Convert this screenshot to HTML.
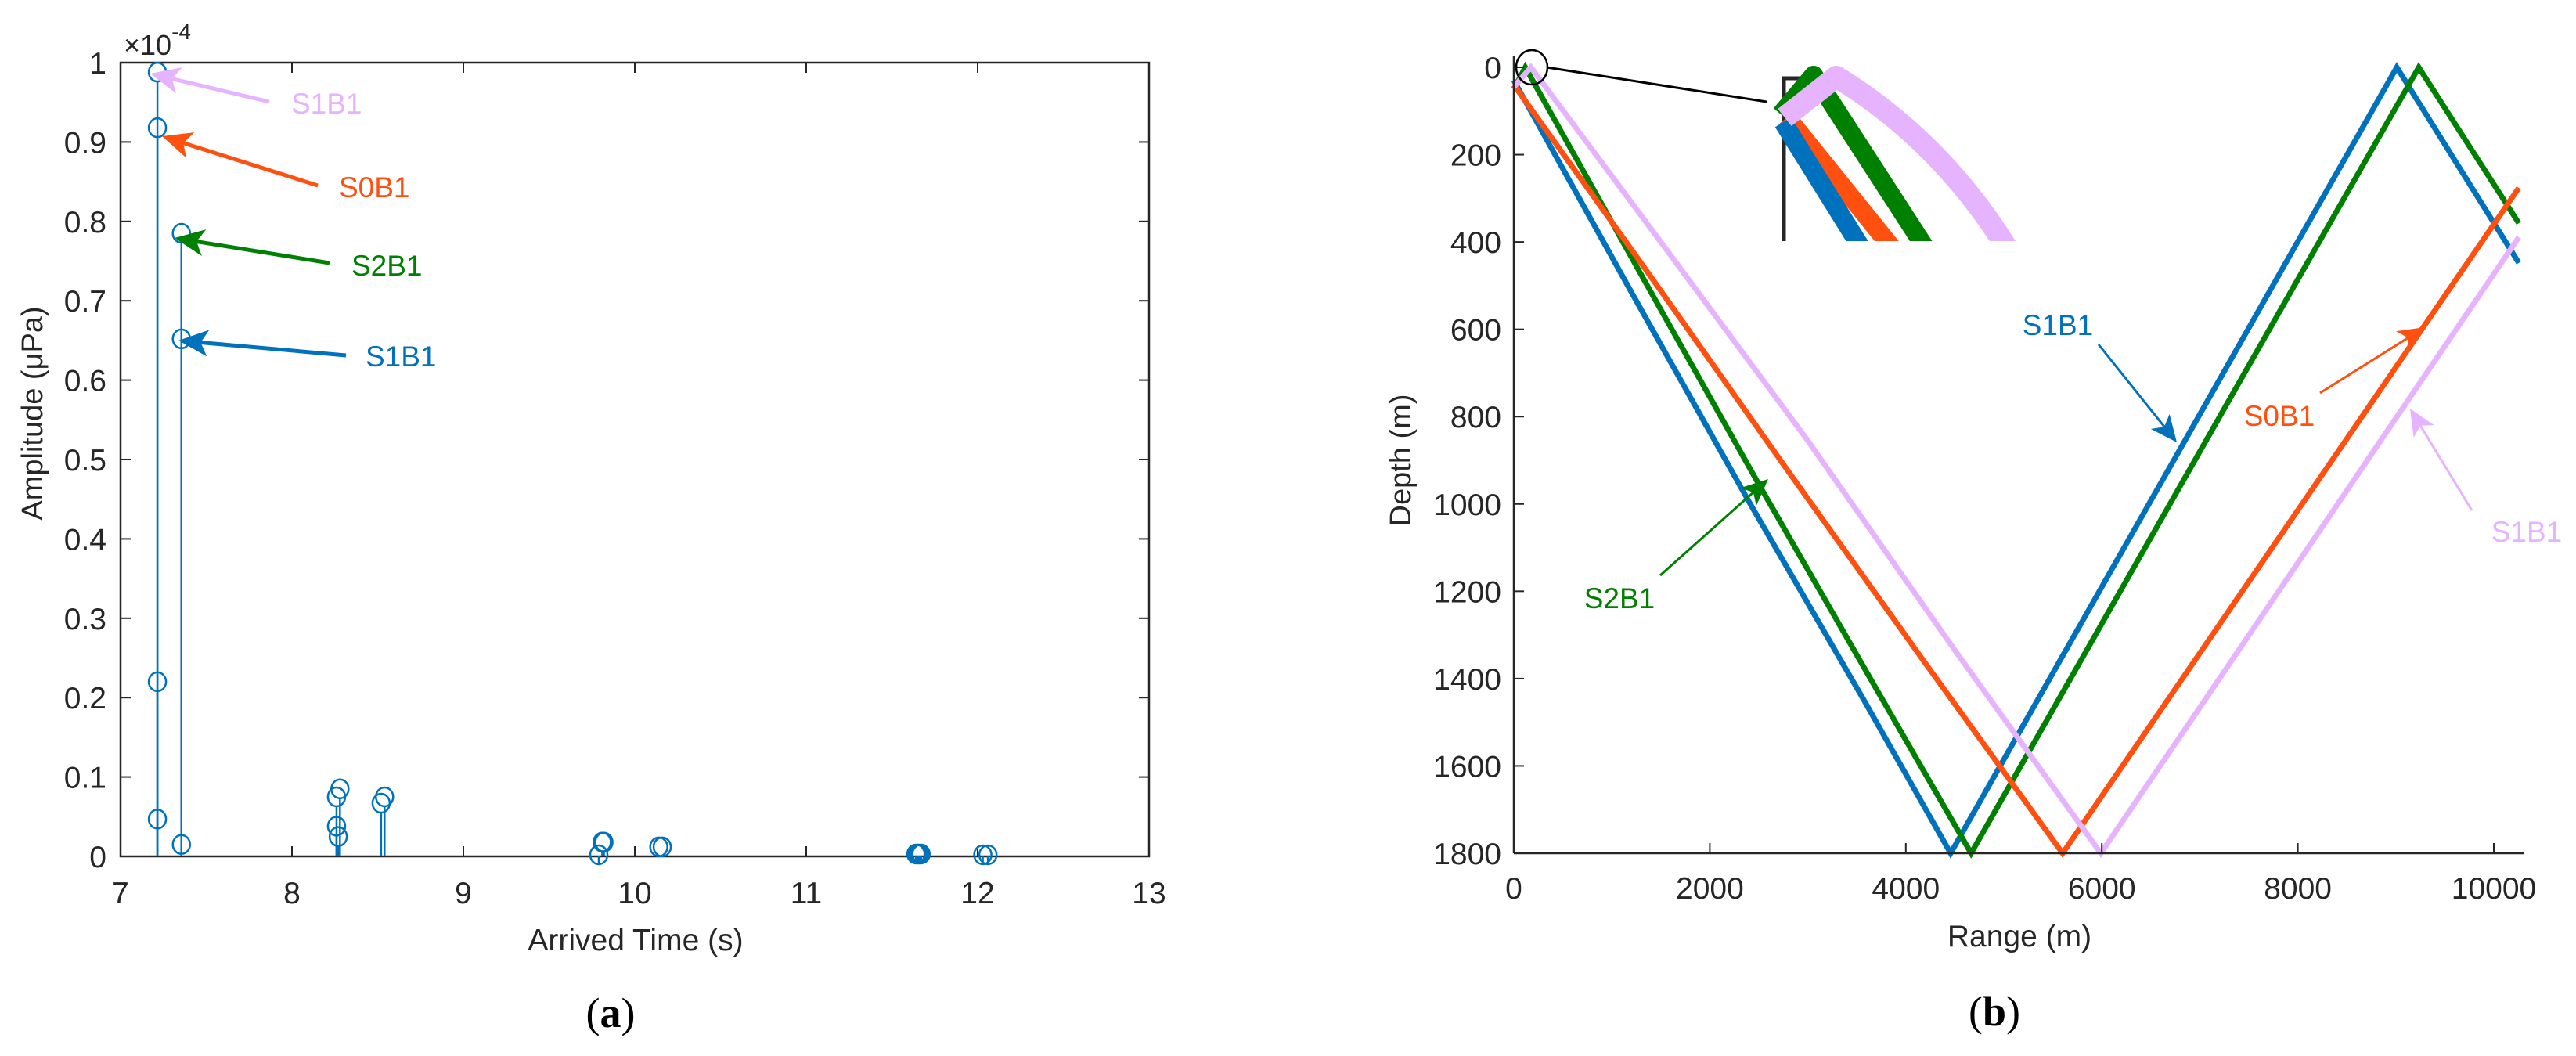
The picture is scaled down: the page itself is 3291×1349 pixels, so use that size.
<!DOCTYPE html>
<html><head><meta charset="utf-8"><style>
html,body{margin:0;padding:0;background:#fff;}
svg{display:block;font-family:"Liberation Sans",sans-serif;}
</style></head><body>
<svg id="fig" width="3291" height="1349" viewBox="0 0 3291 1349" xmlns="http://www.w3.org/2000/svg">
<defs>
<clipPath id="insetClip"><rect x="2200" y="60" width="420" height="248"/></clipPath>
</defs>
<g id="panelA"></g>
<g id="panelB"></g>
</svg>
<script>
// ---------- Panel (a) data ----------
const stemTimes = [7.215,7.215,7.215,7.215,7.355,7.355,7.355,8.26,8.26,8.27,8.28,8.52,8.54,9.79,9.81,9.82,10.14,10.16,11.64,11.65,11.66,11.67,12.03,12.06];
const stemAmps  = [0.988,0.918,0.22,0.047,0.785,0.652,0.015,0.075,0.038,0.025,0.085,0.067,0.075,0.002,0.018,0.018,0.012,0.012,0.003,0.003,0.003,0.003,0.002,0.002];
const aXTicks = [7,8,9,10,11,12,13];
const aYTicks = [0,0.1,0.2,0.3,0.4,0.5,0.6,0.7,0.8,0.9,1];
const aYTickLabels = ["0","0.1","0.2","0.3","0.4","0.5","0.6","0.7","0.8","0.9","1"];

// ---------- Panel (b) data ----------
const rayNames = ["S1B1-blue","S2B1-green","S0B1-orange","S1B1-pink"];
const rayColors = ["#0072BD","#008000","#FF5010","#E6B3FF"];
const rayBlueR = [0,1200,2400,3600,4457,5600,6800,8000,9010,10255];
const rayBlueD = [30,515,995,1460,1800,1348,874,399,0,448];
const rayGreenR = [0,117,1300,2500,3600,4666,5800,7000,8200,9234,10255];
const rayGreenD = [50,0,475,955,1385,1800,1353,880,407,0,357];
const rayOrangeR = [0,1400,2800,4200,5600,7100,8600,10255];
const rayOrangeD = [40,480,925,1365,1800,1309,818,276];
const rayPinkR = [0,175,1500,3000,4500,5990,7400,8800,10255];
const rayPinkD = [45,0,400,855,1335,1800,1334,870,389];
const bXTicks = [0,2000,4000,6000,8000,10000];
const bYTicks = [0,200,400,600,800,1000,1200,1400,1600,1800];

const NS = "http://www.w3.org/2000/svg";
function mk(parent, tag, attrs, text){
  const e = document.createElementNS(NS, tag);
  for (const k in attrs) e.setAttribute(k, attrs[k]);
  if (text !== undefined) e.textContent = text;
  parent.appendChild(e);
  return e;
}
function arrow(parent, x1,y1,x2,y2,color,w,head){
  const g = mk(parent,"g",{});
  const ang = Math.atan2(y2-y1,x2-x1);
  const bx = x2 - head*Math.cos(ang)*0.75, by = y2 - head*Math.sin(ang)*0.75;
  mk(g,"line",{x1:x1,y1:y1,x2:bx,y2:by,stroke:color,"stroke-width":w});
  const p1x = x2 - head*Math.cos(ang) + head*0.45*Math.sin(ang);
  const p1y = y2 - head*Math.sin(ang) - head*0.45*Math.cos(ang);
  const p2x = x2 - head*Math.cos(ang) - head*0.45*Math.sin(ang);
  const p2y = y2 - head*Math.sin(ang) + head*0.45*Math.cos(ang);
  mk(g,"polygon",{points:`${x2},${y2} ${p1x},${p1y} ${bx},${by} ${p2x},${p2y}`,fill:color});
  return g;
}

// ===== Panel A =====
const A = document.getElementById("panelA");
const aL=154, aR=1468, aT=80, aB=1094;
const ax = t => aL + (t-7)/(13-7)*(aR-aL);
const ay = v => aB - v*(aB-aT);

const aBox = mk(A,"rect",{x:aL,y:aT,width:aR-aL,height:aB-aT,fill:"none",stroke:"#262626","stroke-width":2.5});



aXTicks.forEach(t=>{
  const x=ax(t);
  mk(A,"line",{x1:x,y1:aB,x2:x,y2:aB-13,stroke:"#262626","stroke-width":2});
  mk(A,"line",{x1:x,y1:aT,x2:x,y2:aT+13,stroke:"#262626","stroke-width":2});
  const tl = mk(A,"text",{x:x,y:aB+60,"font-size":39,"text-anchor":"middle",fill:"#262626"},String(t));
  
  
});
aYTicks.forEach((v,i)=>{
  const y=ay(v);
  mk(A,"line",{x1:aL,y1:y,x2:aL+13,y2:y,stroke:"#262626","stroke-width":2});
  mk(A,"line",{x1:aR,y1:y,x2:aR-13,y2:y,stroke:"#262626","stroke-width":2});
  const tl = mk(A,"text",{x:aL-18,y:y+14,"font-size":39,"text-anchor":"end",fill:"#262626"},aYTickLabels[i]);
  
  
});
const exp = mk(A,"text",{x:158,y:70,"font-size":36,fill:"#262626"});
exp.innerHTML = '×10<tspan dy="-20" font-size="28">-4</tspan>';



stemTimes.forEach((t,i)=>{
  const x=ax(t), y=ay(stemAmps[i]);
  const s = mk(A,"line",{x1:x,y1:aB,x2:x,y2:y+11,stroke:"#0072BD","stroke-width":2.5});
  
  
  const c = mk(A,"ellipse",{cx:x,cy:y,rx:11,ry:12,fill:"none",stroke:"#0072BD","stroke-width":2.5});
  
  
});

const aAnn = [
  {t:"S1B1",c:"#E6B3FF",tx:372,ty:145,x1:344,y1:130,x2:192,y2:94},
  {t:"S0B1",c:"#FF5010",tx:433,ty:252,x1:406,y1:237,x2:207,y2:174},
  {t:"S2B1",c:"#008000",tx:449,ty:352,x1:421,y1:336,x2:223,y2:304},
  {t:"S1B1",c:"#0072BD",tx:467,ty:468,x1:442,y1:454,x2:228,y2:435}
];
aAnn.forEach(a=>{
  const g = arrow(A,a.x1,a.y1,a.x2,a.y2,a.c,5,38);
  
  
  const tx = mk(A,"text",{x:a.tx,y:a.ty,"font-size":37,fill:a.c},a.t);
  
  
});

const aYl = mk(A,"text",{x:0,y:0,"font-size":38,"text-anchor":"middle",fill:"#262626",transform:"translate(54,528) rotate(-90)"},"Amplitude (μPa)");


const aXl = mk(A,"text",{x:812,y:1214,"font-size":39,"text-anchor":"middle",fill:"#262626"},"Arrived Time (s)");


const capA = mk(A,"text",{x:780,y:1312,"font-size":54,"text-anchor":"middle",fill:"#000","font-family":"Liberation Serif, serif"});
capA.innerHTML='(<tspan font-weight="bold">a</tspan>)';



// ===== Panel B =====
const B = document.getElementById("panelB");
const bL=1934, bT=86, bB=1090, bRend=3224;
const bx = r => bL + r/10000*(3186-bL);
const by = d => bT + d/1800*(bB-bT);

const rays = [[rayBlueR,rayBlueD],[rayGreenR,rayGreenD],[rayOrangeR,rayOrangeD],[rayPinkR,rayPinkD]];
rays.forEach((rd,i)=>{
  const pts = rd[0].map((r,j)=>bx(r)+","+by(rd[1][j])).join(" ");
  const p = mk(B,"polyline",{points:pts,fill:"none",stroke:rayColors[i],"stroke-width":7,"stroke-linejoin":"miter"});
  
  
});

mk(B,"line",{x1:bL,y1:bT-14,x2:bL,y2:bB,stroke:"#262626","stroke-width":2.5});
mk(B,"line",{x1:bL,y1:bB,x2:bRend,y2:bB,stroke:"#262626","stroke-width":2.5});
bXTicks.forEach(r=>{
  const x=bx(r);
  mk(B,"line",{x1:x,y1:bB,x2:x,y2:bB-13,stroke:"#262626","stroke-width":2});
  const tl = mk(B,"text",{x:x,y:bB+58,"font-size":39,"text-anchor":"middle",fill:"#262626"},String(r));
  
  
});
bYTicks.forEach(d=>{
  const y=by(d);
  mk(B,"line",{x1:bL,y1:y,x2:bL+13,y2:y,stroke:"#262626","stroke-width":2});
  const tl = mk(B,"text",{x:bL-16,y:y+14,"font-size":39,"text-anchor":"end",fill:"#262626"},String(d));
  
  
});

// zoom inset
const ins = mk(B,"g",{"clip-path":"url(#insetClip)"});


mk(ins,"polyline",{points:"2300,100 2279,100 2279,310",fill:"none",stroke:"#262626","stroke-width":5});
mk(ins,"path",{d:"M2283,150 L2420,320",stroke:"#FF5010","stroke-width":24,fill:"none"});
mk(ins,"path",{d:"M2278,156 L2380,320",stroke:"#0072BD","stroke-width":24,fill:"none"});
mk(ins,"path",{d:"M2275,146 L2317,96 L2462,320",stroke:"#008000","stroke-width":24,fill:"none","stroke-linejoin":"round"});
mk(ins,"path",{d:"M2280,150 L2346,98 Q2480,180 2566,320",stroke:"#E6B3FF","stroke-width":28,fill:"none","stroke-linejoin":"round"});
const circ = mk(B,"ellipse",{cx:1957,cy:86,rx:20,ry:22,fill:"none",stroke:"#000","stroke-width":2.5});


mk(B,"line",{x1:1976,y1:86,x2:2257,y2:130,stroke:"#000","stroke-width":3});

const bAnn = [
  {t:"S1B1",c:"#0072BD",tx:2629,ty:428,x1:2681,y1:440,x2:2781,y2:565,a:"middle"},
  {t:"S0B1",c:"#FF5010",tx:2912,ty:544,x1:2964,y1:502,x2:3098,y2:418,a:"middle"},
  {t:"S1B1",c:"#E6B3FF",tx:3228,ty:692,x1:3158,y1:652,x2:3079,y2:522,a:"middle"},
  {t:"S2B1",c:"#008000",tx:2069,ty:777,x1:2121,y1:735,x2:2259,y2:612,a:"middle"}
];
bAnn.forEach(a=>{
  const g = arrow(B,a.x1,a.y1,a.x2,a.y2,a.c,3,34);
  
  
  const tx = mk(B,"text",{x:a.tx,y:a.ty,"font-size":37,"text-anchor":a.a,fill:a.c},a.t);
  
  
});

const bYl = mk(B,"text",{x:0,y:0,"font-size":38,"text-anchor":"middle",fill:"#262626",transform:"translate(1802,588) rotate(-90)"},"Depth (m)");


const bXl = mk(B,"text",{x:2580,y:1209,"font-size":39,"text-anchor":"middle",fill:"#262626"},"Range (m)");


const capB = mk(B,"text",{x:2548,y:1310,"font-size":54,"text-anchor":"middle",fill:"#000","font-family":"Liberation Serif, serif"});
capB.innerHTML='(<tspan font-weight="bold">b</tspan>)';


</script>
</body></html>
